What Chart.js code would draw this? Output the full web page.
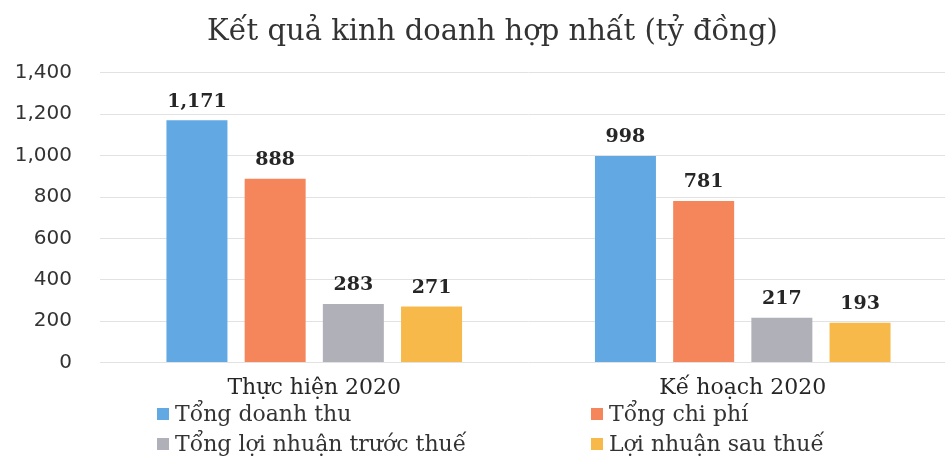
<!DOCTYPE html>
<html>
<head>
<meta charset="utf-8">
<script src="https://cdn.jsdelivr.net/npm/chart.js@4/dist/chart.umd.min.js"></script>
<style>
  html, body { margin: 0; padding: 0; background: #fff; }
  #wrap { position: relative; width: 945px; height: 457px; overflow: hidden; }
  #legend { position: absolute; left: 0; top: 401px; width: 945px; font-family: "DejaVu Serif", serif; font-size: 22px; color: #333; }
  .item { position: absolute; display: flex; align-items: center; white-space: nowrap; }
  .item span.box { width: 12px; height: 12px; margin-right: 6px; display: inline-block; }
</style>
</head>
<body>
<div id="wrap">
  <canvas id="kqkd" width="957" height="457"></canvas>
  <div id="legend"></div>
</div>
<script>
const categories = ['Thực hiện 2020', 'Kế hoạch 2020'];
const seriesNames = ['Tổng doanh thu', 'Tổng chi phí', 'Tổng lợi nhuận trước thuế', 'Lợi nhuận sau thuế'];
const tongDoanhThu = [1171, 998];
const tongChiPhi = [888, 781];
const loiNhuanTruocThue = [283, 217];
const loiNhuanSauThue = [271, 193];
const yTicks = [0, 200, 400, 600, 800, 1000, 1200, 1400];
const colors = ['#62a8e3', '#f5865c', '#b0b0b8', '#f6b94a'];

const seriesValues = [tongDoanhThu, tongChiPhi, loiNhuanTruocThue, loiNhuanSauThue];

// nhãn giá trị trên đầu cột
const valueLabels = {
    id: 'valueLabels',
    afterDatasetsDraw(chart) {
        const ctx = chart.ctx;
        ctx.save();
        ctx.font = 'bold 19px "DejaVu Serif", serif';
        ctx.fillStyle = '#262626';
        ctx.textAlign = 'center';
        ctx.textBaseline = 'bottom';
        chart.data.datasets.forEach((ds, i) => {
            chart.getDatasetMeta(i).data.forEach((bar, j) => {
                ctx.fillText(ds.data[j].toLocaleString('en-US'), bar.x, bar.y - 9);
            });
        });
        ctx.restore();
    }
};

// canvas rộng hơn khung nhìn 12px, dời tiêu đề cho cân giữa trang
const titleShift = {
    id: 'titleShift',
    afterLayout(chart) {
        chart.titleBlock.left = 28;
    }
};

const ctx = document.getElementById('kqkd').getContext('2d');
const chart = new Chart(ctx, {
    type: 'bar',
    data: {
        labels: categories,
        datasets: seriesNames.map((name, i) => ({
            label: name,
            data: seriesValues[i],
            backgroundColor: colors[i],
            borderWidth: 0,
            categoryPercentage: 0.73,
            barPercentage: 0.78
        }))
    },
    options: {
        responsive: false,
        animation: false,
        layout: { padding: { top: 5, bottom: 52, left: 0, right: 0 } },
        plugins: {
            legend: { display: false },
            tooltip: { enabled: false },
            title: {
                display: true,
                text: 'Kết quả kinh doanh hợp nhất (tỷ đồng)',
                color: '#333',
                font: { family: '"DejaVu Serif", serif', size: 29, weight: 'normal' },
                padding: { top: 10, bottom: 23 }
            }
        },
        scales: {
            x: {
                grid: { display: false },
                border: { display: false },
                ticks: {
                    color: '#262626',
                    padding: 4,
                    font: { family: '"DejaVu Serif", serif', size: 22 }
                }
            },
            y: {
                min: 0,
                max: 1400,
                afterFit(scale) { scale.width = 100; },
                afterBuildTicks(scale) { scale.ticks = yTicks.map(v => ({ value: v })); },
                grid: { color: '#e2e2e2', lineWidth: 1, drawTicks: false },
                border: { display: false },
                ticks: {
                    color: '#333',
                    padding: 28,
                    font: { family: '"DejaVu Sans", sans-serif', size: 20 },
                    callback: v => v.toLocaleString('en-US')
                }
            }
        }
    },
    plugins: [valueLabels, titleShift]
});

// chú thích 2 cột
const legendPos = [[157, 0], [591, 0], [157, 30], [591, 30]];
const legend = document.getElementById('legend');
seriesNames.forEach((name, i) => {
    const el = document.createElement('div');
    el.className = 'item';
    el.style.left = legendPos[i][0] + 'px';
    el.style.top = legendPos[i][1] + 'px';
    el.innerHTML = '<span class="box" style="background:' + colors[i] + '"></span>' + name;
    legend.appendChild(el);
});
</script>
</body>
</html>
